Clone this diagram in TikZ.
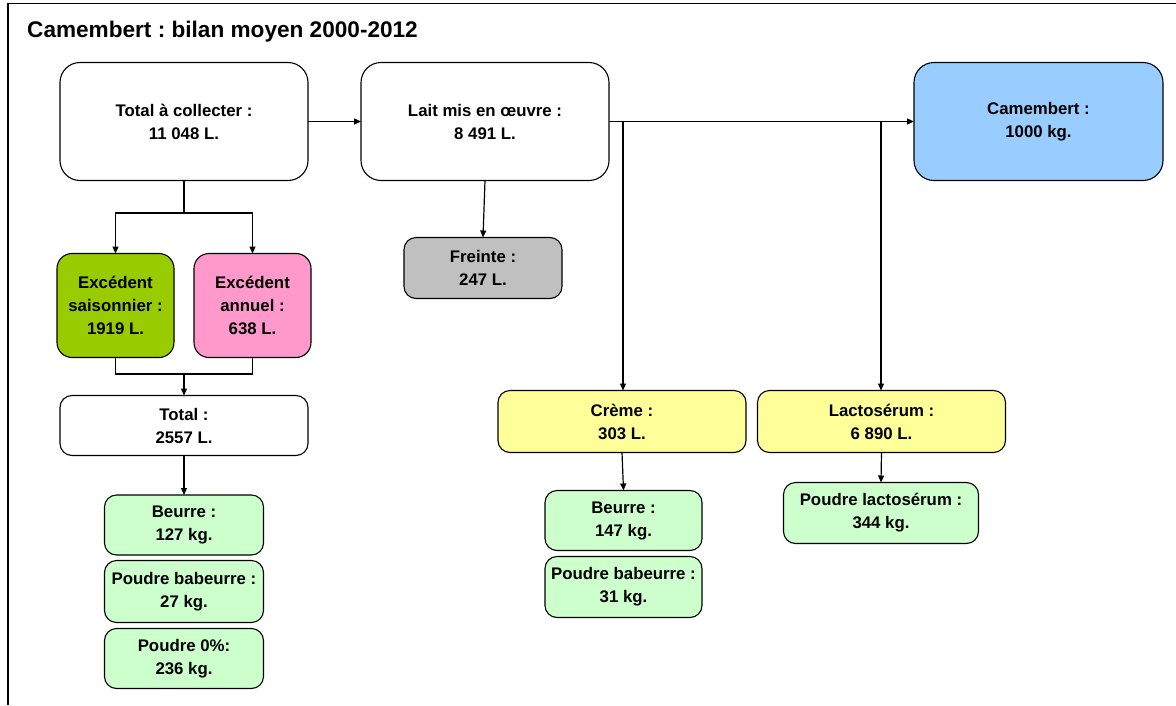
\documentclass[tikz,border=0pt]{standalone}
\usepackage{fontspec}
\setmainfont{Liberation Sans}
\usetikzlibrary{arrows.meta}
\newcommand\bxfont{\fontsize{16.8}{23}\selectfont\bfseries}
\definecolor{cgreen}{HTML}{99CC00}
\definecolor{cpink}{HTML}{FF99CC}
\definecolor{cblue}{HTML}{99CCFF}
\definecolor{cgrey}{HTML}{C0C0C0}
\definecolor{cyellow}{HTML}{FFFF99}
\definecolor{clgreen}{HTML}{CCFFCC}
\frenchspacing
\begin{document}
\begin{tikzpicture}[x=1pt,y=-1pt,
  box/.style={draw=black, line width=1.1pt, rounded corners=#1, align=center,
    font=\bxfont, inner sep=0pt, outer sep=0pt},
  box/.default=12pt,
  conn/.style={line width=1.2pt, draw=black},
  arr/.style={conn, -{Triangle[length=7pt,width=6pt]}}]
\useasboundingbox (0,0) rectangle (1176,705);
\fill[white] (0,0) rectangle (1176,705);
% frame
\draw[line width=1.5pt] (1176,3.5) -- (8,3.5) -- (8,705);
\node[anchor=base west, font=\fontsize{22.6}{26}\selectfont\bfseries, inner sep=0pt] (title) at (27,37) {Camembert : bilan moyen 2000-2012};
% nodes
\node[box=20pt, fill=white, minimum width=248, minimum height=118] (tc) at (184,121.5) {Total à collecter :\\11 048 L.};
\node[box=20pt, fill=white, minimum width=248, minimum height=118] (lm) at (485,121.5) {Lait mis en œuvre :\\8 491 L.};
\node[box=20pt, fill=cblue, minimum width=249, minimum height=118] (cam) at (1038.5,121.5) {Camembert :\\1000 kg.};
\node[box, fill=cgrey, minimum width=158, minimum height=61] (fr) at (483,268) {Freinte :\\247 L.};
\node[box=15pt, fill=cgreen, minimum width=117, minimum height=104] (es) at (115.5,305.5) {Excédent\\saisonnier :\\1919 L.};
\node[box=15pt, fill=cpink, minimum width=117, minimum height=104] (ea) at (252.5,305.5) {Excédent\\annuel :\\638 L.};
\node[box, fill=white, minimum width=248, minimum height=60] (tot) at (184,425.5) {Total :\\2557 L.};
\node[box, fill=clgreen, minimum width=159, minimum height=60] (b1) at (184,525) {Beurre :\\127 kg.};
\node[box, fill=clgreen, minimum width=159, minimum height=62] (pb1) at (184,591.5) {Poudre babeurre :\\27 kg.};
\node[box, fill=clgreen, minimum width=159, minimum height=60] (p0) at (184,658.5) {Poudre 0\%:\\236 kg.};
\node[box, fill=cyellow, minimum width=248, minimum height=62] (cr) at (622,421.5) {Crème :\\303 L.};
\node[box, fill=cyellow, minimum width=248, minimum height=62] (lac) at (881.5,421.5) {Lactosérum :\\6 890 L.};
\node[box, fill=clgreen, minimum width=157, minimum height=60] (b2) at (623.5,520.5) {Beurre :\\147 kg.};
\node[box, fill=clgreen, minimum width=157, minimum height=61] (pb2) at (623.5,587) {Poudre babeurre :\\31 kg.};
\node[box, fill=clgreen, minimum width=195, minimum height=61] (pl) at (881,513) {Poudre lactosérum :\\344 kg.};
% connectors
\draw[arr] (tc.east) -- (lm.west);
\coordinate (j1) at (184,213);
\draw[conn] (tc.south) -- (j1);
\draw[arr] (j1) -| (es.north);
\draw[arr] (j1) -| (ea.north);
\coordinate (j2) at (184,374);
\draw[conn] (es.south) |- (j2);
\draw[conn] (ea.south) |- (j2);
\draw[arr] (j2) -- (tot.north);
\draw[arr] (tot.south) -- (b1.north);
\draw[arr] (lm.south) -- (fr.north);
\draw[arr] (lm.east) -- (cam.west);
\coordinate (k1) at (623,121.5);
\coordinate (k2) at (881,121.5);
\draw[arr] (k1) -- (k1 |- cr.north);
\draw[arr] (k2) -- (k2 |- lac.north);
\draw[arr] (cr.south) -- (b2.north);
\draw[arr] (lac.south) -- (pl.north);
\end{tikzpicture}
\end{document}
